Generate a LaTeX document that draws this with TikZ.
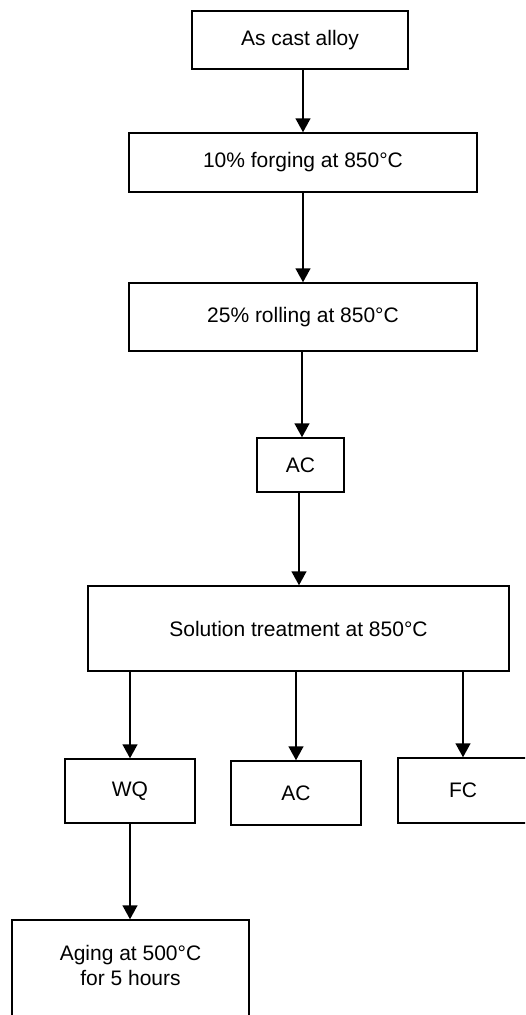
\documentclass[tikz,border=0pt]{standalone}
\usepackage{fontspec}
\setmainfont{Liberation Sans}
\usetikzlibrary{arrows.meta}
\begin{document}
\begin{tikzpicture}[x=1pt,y=-1pt,
  box/.style={draw=black,line width=1.5pt,fill=white,inner sep=0pt,align=center,font=\fontsize{21}{25}\selectfont},
  arr/.style={line width=1.5pt,-{Triangle[width=15pt,length=14pt]}}]
\useasboundingbox (0,0) rectangle (525,1015);
\clip (0,0) rectangle (525,1015);
\node[box,minimum width=216pt,minimum height=58pt] (b1) at (300,40) {As cast alloy};
\node[box,minimum width=348pt,minimum height=59pt] (b2) at (303,162.5) {10\% forging at 850°C};
\node[box,minimum width=348pt,minimum height=68pt] (b3) at (303,317) {25\% rolling at 850°C};
\node[box,minimum width=87pt,minimum height=54pt] (b4) at (300.5,465) {AC};
\node[box,minimum width=421pt,minimum height=85pt] (b5) at (298.5,628.5) {Solution treatment at 850°C};
\node[box,minimum width=130pt,minimum height=64pt] (wq) at (130,791) {WQ};
\node[box,minimum width=130pt,minimum height=64pt] (ac) at (296,793) {AC};
\node[box,minimum width=130pt,minimum height=65pt] (fc) at (463,790.5) {FC};
\node[box,minimum width=237pt,minimum height=100pt] (ag) at (130.5,970) {};
\node[font=\fontsize{21}{25}\selectfont,align=center,inner sep=0pt] (agt) at (130.5,965) {Aging at 500°C\\for 5 hours};
\coordinate (x1) at (303,0);
\coordinate (x3) at (302,0);
\coordinate (x4) at (299,0);
\draw[arr] (b1.south -| x1) -- (b2.north -| x1);
\draw[arr] (b2.south -| x1) -- (b3.north -| x1);
\draw[arr] (b3.south -| x3) -- (b4.north -| x3);
\draw[arr] (b4.south -| x4) -- (b5.north -| x4);
\draw[arr] (b5.south -| wq.north) -- (wq.north);
\draw[arr] (b5.south -| ac.north) -- (ac.north);
\draw[arr] (b5.south -| fc.north) -- (fc.north);
\draw[arr] (wq.south) -- (wq.south |- ag.north);
\end{tikzpicture}
\end{document}
